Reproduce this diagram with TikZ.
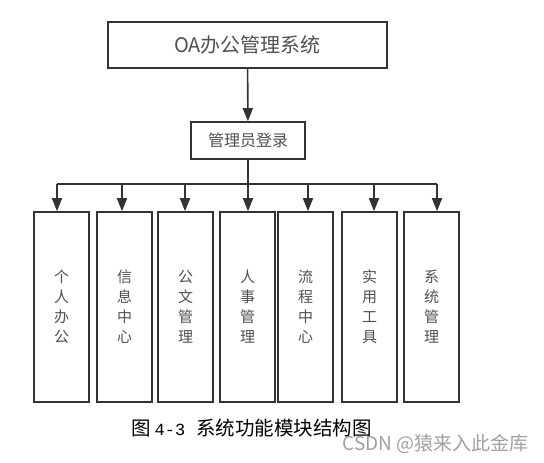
\documentclass[tikz,border=0pt]{standalone}
\usepackage{fontspec}
\setmainfont{Liberation Serif}
\newfontfamily\cjk{Noto Sans CJK SC}
\newfontfamily\mono{Liberation Mono}
\usetikzlibrary{positioning}
\usetikzlibrary{arrows.meta}
\definecolor{linegray}{HTML}{333333}
\definecolor{textgray}{HTML}{505050}
\definecolor{markgray}{HTML}{A0A0A0}
\tikzstyle{topbox}=[draw=linegray,line width=1.6pt,minimum width=279pt,minimum height=46pt,inner sep=0pt,font=\cjk\fontsize{20}{24}\selectfont,text=textgray]
\tikzstyle{loginbox}=[draw=linegray,line width=1.6pt,minimum width=114pt,minimum height=37pt,inner sep=0pt,font=\cjk\fontsize{16}{19}\selectfont,text=textgray]
\tikzstyle{modbox}=[draw=linegray,line width=1.6pt,minimum width=55pt,minimum height=190pt,inner sep=0pt,align=center,font=\cjk\fontsize{15}{20}\selectfont,text=textgray]
\tikzstyle{edge} = [draw=linegray,line width=1.6pt,-{Triangle[width=10pt,length=13pt]}]
\tikzstyle{bus} = [draw=linegray,line width=1.6pt]

\begin{document}
\begin{tikzpicture}[x=1pt,y=-1pt]
    \useasboundingbox (0,0) rectangle (544,463);

    % the two top boxes
    \node[topbox] (OA) at (247.5,45) {OA办公管理系统};
    \node[loginbox] (Login) at (248,140.5) {管理员登录};
    \path[edge] (OA) -- (Login);

    % bus line under the login box
    \coordinate (Bus) at (248,184);
    \path[bus] (Login) -- (Bus);

    % the seven modules
    \foreach \pos/\arr/\name/\txt in {{61.5/57/M1/个\\人\\办\\公}, {124.5/122/M2/信\\息\\中\\心},
        {185.5/185/M3/公\\文\\管\\理}, {247.5/248/M4/人\\事\\管\\理}, {305.5/308/M5/流\\程\\中\\心},
        {369.5/374/M6/实\\用\\工\\具}, {431.5/437/M7/系\\统\\管\\理}}
    {
        \node[modbox] (\name) at (\pos,307) {\txt};
        \coordinate (T\name) at (\arr,184);
        \path[edge] (T\name) -- (T\name |- \name.north);
    }
    \path[bus] (TM1) -- (TM7);

    % caption and mark
    \node[anchor=west,inner sep=0pt] (Caption) at (131,428) {\fontsize{19.5}{22}\selectfont\cjk 图\hspace{4pt}{\mono\fontsize{17}{20}\selectfont 4-3}\hspace{11pt}系统功能模块结构图};
    \node[anchor=east,inner sep=0pt,text=markgray] (Mark) at (529,444) {\fontsize{19}{22}\selectfont\cjk CSDN @猿来入此金库};
\end{tikzpicture}
\end{document}
